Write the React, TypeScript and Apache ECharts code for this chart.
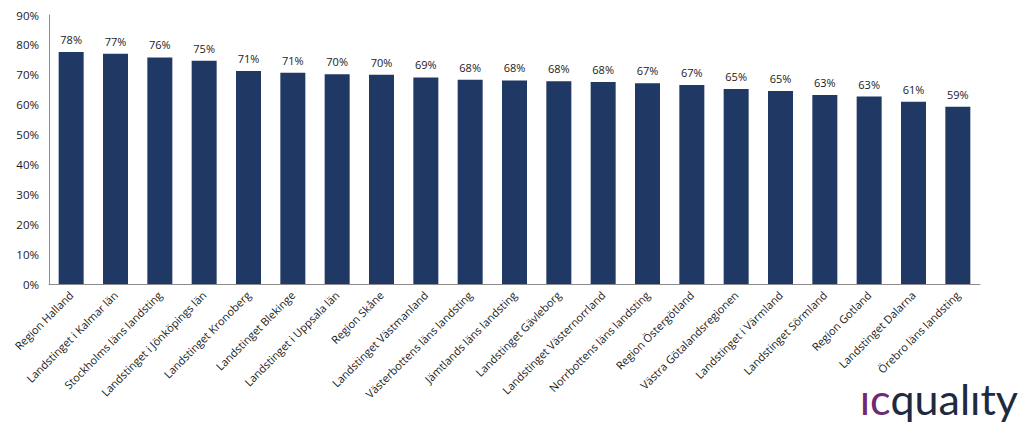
import React, { useEffect, useRef } from "react";
import * as echarts from "echarts";

const categories = [
  "Region Halland",
  "Landstinget i Kalmar län",
  "Stockholms läns landsting",
  "Landstinget i Jönköpings län",
  "Landstinget Kronoberg",
  "Landstinget Blekinge",
  "Landstinget i Uppsala län",
  "Region Skåne",
  "Landstinget Västmanland",
  "Västerbottens läns landsting",
  "Jämtlands läns landsting",
  "Landstinget Gävleborg",
  "Landstinget Västernorrland",
  "Norrbottens läns landsting",
  "Region Östergötland",
  "Västra Götalandsregionen",
  "Landstinget i Värmland",
  "Landstinget Sörmland",
  "Region Gotland",
  "Landstinget Dalarna",
  "Örebro läns landsting",
];

const values = [
  77.6, 77.0, 75.8, 74.7, 71.3, 70.7, 70.2, 70.0, 69.1, 68.3, 68.1, 67.8, 67.6,
  67.2, 66.6, 65.2, 64.6, 63.2, 62.7, 61.0, 59.3,
];

const yTicks = [0, 10, 20, 30, 40, 50, 60, 70, 80, 90];

export default function App() {
  const ref = useRef<HTMLDivElement>(null);
  useEffect(() => {
    if (!ref.current) return;
    const chart = echarts.init(ref.current, null, { renderer: "svg" });
    chart.setOption({
      animation: false,
      backgroundColor: "#ffffff",
      grid: { left: 49, top: 15, right: 43, bottom: 144, containLabel: false },
      xAxis: {
        type: "category",
        data: categories,
        axisLine: { show: true, lineStyle: { color: "#8c8c8c", width: 1 } },
        axisTick: { show: false },
        axisLabel: {
          rotate: 45,
          interval: 0,
          fontFamily: "Open Sans",
          fontSize: 11,
          color: "#1a1a1a",
          margin: 9,
        },
      },
      yAxis: {
        type: "value",
        min: yTicks[0],
        max: yTicks[yTicks.length - 1],
        interval: 10,
        splitLine: { show: false },
        axisLine: { show: true, lineStyle: { color: "#8c8c8c", width: 1 } },
        axisTick: { show: false },
        axisLabel: {
          formatter: (v: number) => `${v}%`,
          fontFamily: "Open Sans",
          fontSize: 11.5,
          color: "#1a1a1a",
          margin: 10,
        },
      },
      series: [
        {
          type: "bar",
          data: values,
          barWidth: 25,
          itemStyle: { color: "#203864" },
          label: {
            show: true,
            position: "top",
            distance: 7,
            formatter: (p: any) => `${Math.round(p.value)}%`,
            fontFamily: "Open Sans",
            fontSize: 11,
            color: "#1a1a1a",
          },
        },
      ],
      graphic: [
        {
          type: "text",
          right: 5,
          top: 377,
          style: {
            text: "{a|ıc}{b|qualıty}",
            rich: {
              a: { fontFamily: "Lato", fontSize: 43, fill: "#6e2a73" },
              b: { fontFamily: "Lato", fontSize: 43, fill: "#1e2a40" },
            },
          },
        },
      ],
    });
    return () => chart.dispose();
  }, []);
  return (
    <div
      ref={ref}
      style={{ position: "fixed", left: 0, top: 0, width: 1023, height: 428 }}
    />
  );
}
